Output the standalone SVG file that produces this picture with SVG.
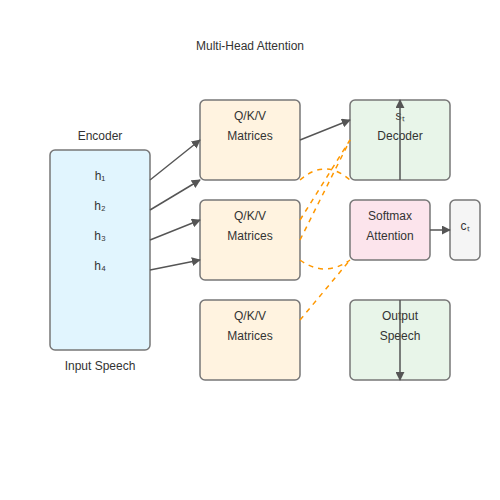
<svg xmlns="http://www.w3.org/2000/svg" width="500" height="500" viewBox="0 0 500 500">
<defs>
<style>
text{font-family:"Liberation Sans",Arial,sans-serif;font-size:12px;fill:#333;text-anchor:middle}
.box{stroke:#777;stroke-width:1.5}
.arr{stroke:#555;stroke-width:1.5;fill:none;marker-end:url(#ah)}
.dash{stroke:#ff9800;stroke-width:1.5;fill:none;stroke-dasharray:5,5}
</style>
<marker id="ah" viewBox="0 0 10 10" refX="9" refY="5" markerWidth="6" markerHeight="6" orient="auto" markerUnits="strokeWidth">
<path d="M0,0 L10,5 L0,10 z" fill="#555"/>
</marker>
</defs>
<rect width="500" height="500" fill="#fff"/>
<text x="250" y="50">Multi-Head Attention</text>
<g id="encoder">
<text x="100" y="140">Encoder</text>
<rect class="box" x="50" y="150" width="100" height="200" rx="5" fill="#e1f5fe"/>
<text x="100" y="180">h₁</text>
<text x="100" y="210">h₂</text>
<text x="100" y="240">h₃</text>
<text x="100" y="270">h₄</text>
<text x="100" y="370">Input Speech</text>
</g>
<g id="qkv1">
<rect class="box" x="200" y="100" width="100" height="80" rx="5" fill="#fff3e0"/>
<text x="250" y="120">Q/K/V</text>
<text x="250" y="140">Matrices</text>
</g>
<g id="qkv2">
<rect class="box" x="200" y="200" width="100" height="80" rx="5" fill="#fff3e0"/>
<text x="250" y="220">Q/K/V</text>
<text x="250" y="240">Matrices</text>
</g>
<g id="qkv3">
<rect class="box" x="200" y="300" width="100" height="80" rx="5" fill="#fff3e0"/>
<text x="250" y="320">Q/K/V</text>
<text x="250" y="340">Matrices</text>
</g>
<g id="decoder">
<rect class="box" x="350" y="100" width="100" height="80" rx="5" fill="#e8f5e9"/>
<text x="400" y="120">sₜ</text>
<text x="400" y="140">Decoder</text>
</g>
<g id="softmax">
<rect class="box" x="350" y="200" width="80" height="60" rx="5" fill="#fce4ec"/>
<text x="390" y="220">Softmax</text>
<text x="390" y="240">Attention</text>
</g>
<g id="context">
<rect class="box" x="450" y="200" width="30" height="60" rx="5" fill="#f5f5f5"/>
<text x="465" y="230">cₜ</text>
</g>
<g id="output">
<rect class="box" x="350" y="300" width="100" height="80" rx="5" fill="#e8f5e9"/>
<text x="400" y="320">Output</text>
<text x="400" y="340">Speech</text>
</g>
<g id="connectors">
<line class="arr" x1="150" y1="180" x2="200" y2="140"/>
<line class="arr" x1="150" y1="210" x2="200" y2="180"/>
<line class="arr" x1="150" y1="240" x2="200" y2="220"/>
<line class="arr" x1="150" y1="270" x2="200" y2="260"/>
<line class="arr" x1="300" y1="140" x2="350" y2="120"/>
<line class="arr" x1="400" y1="180" x2="400" y2="100"/>
<line class="arr" x1="430" y1="230" x2="450" y2="230"/>
<line class="arr" x1="400" y1="300" x2="400" y2="380"/>
<path class="dash" d="M300,180 Q325,158 350,180"/>
<line class="dash" x1="300" y1="220" x2="350" y2="140"/>
<line class="dash" x1="300" y1="240" x2="350" y2="140"/>
<path class="dash" d="M300,260 Q325,278 350,260"/>
<line class="dash" x1="300" y1="320" x2="350" y2="260"/>
</g>
</svg>
